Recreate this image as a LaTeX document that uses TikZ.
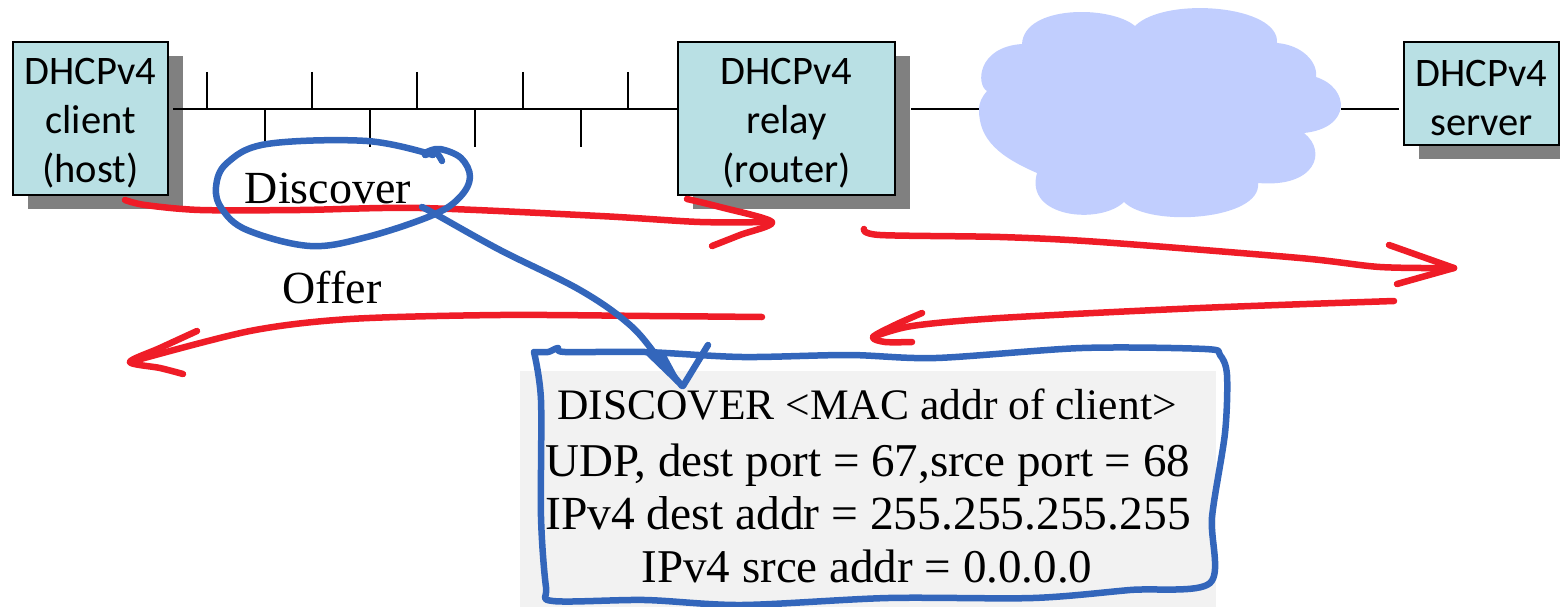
\documentclass[tikz,border=0pt]{standalone}
\usepackage{fontspec}
\setmainfont{Liberation Serif}
\newfontfamily\boxfont{Carlito}
\usetikzlibrary{shadows}
\definecolor{boxcyan}{HTML}{B9E0E4}
\definecolor{cloudblue}{HTML}{C1CEFE}
\definecolor{penred}{HTML}{EF1C27}
\definecolor{penblue}{HTML}{3366BB}
\definecolor{msggray}{HTML}{F2F2F2}
\newcommand{\msgsize}[1]{\fontsize{#1}{53}\selectfont}
\newcommand{\hostgap}{\rule{0pt}{35pt}}
\begin{document}
\begin{tikzpicture}[
  x=1pt,y=-1pt,
  hostbox/.style={draw=black,line width=2.4pt,fill=boxcyan,align=center,inner sep=0pt,
    font=\boxfont\fontsize{40.5}{49}\selectfont,
    copy shadow={shadow xshift=14.5pt,shadow yshift=-14pt,fill=gray,draw=none}},
  wire/.style={black,line width=2pt},
  redpen/.style={penred,line width=6.5pt,line cap=round,line join=round},
  bluepen/.style={penblue,line width=6.5pt,line cap=round,line join=round},
  label/.style={font=\fontsize{46}{50}\selectfont,inner sep=0pt},
  msgline/.style={anchor=base,inner sep=0pt}]

\useasboundingbox (0,0) rectangle (1560,607);

% Hosts and the network between them
\node[hostbox,minimum width=155pt,minimum height=153pt] (client) at (90.5,118.5) {\hostgap DHCPv4 \\ client \\ (host)};
\node[hostbox,minimum width=217pt,minimum height=153pt] (relay) at (786.5,118.5) {\hostgap DHCPv4 \\ relay \\ (router)};
\node[hostbox,minimum width=155pt,minimum height=103pt] (server) at (1481.5,93.5) {\hostgap DHCPv4 \\ server};

\fill[cloudblue] (979,110) .. controls (979,102) and (982,97) .. (987,91)
  .. controls (976,85) and (977,47) .. (1022,44)
  .. controls (1024,5) and (1110,5) .. (1135,26)
  .. controls (1165,-4) and (1280,5) .. (1277,43)
  .. controls (1302,45) and (1318,62) .. (1316,77)
  .. controls (1350,88) and (1352,128) .. (1304,133)
  .. controls (1328,152) and (1315,188) .. (1258,183)
  .. controls (1262,220) and (1150,228) .. (1124,202)
  .. controls (1100,225) and (1024,218) .. (1037,173)
  .. controls (1000,157) and (979,140) .. (979,110) -- cycle;
\node[inner sep=0pt,minimum width=362pt,minimum height=60pt] (cloud) at (1160,109) {};

% The shared link with its stations
\coordinate (bus) at (0,109);
\draw[wire,shorten <=4pt] (client.east |- bus) -- (relay.west |- bus);
\draw[wire,shorten <=15pt] (relay.east |- bus) -- (cloud.west |- bus);
\draw[wire,shorten >=4pt] (cloud.east |- bus) -- (server.west |- bus);
\foreach \xpos in {207,312,417,523,628}
  \draw[wire] (\xpos,72) -- (\xpos,109);
\foreach \xpos in {265,370,475,581}
  \draw[wire] (\xpos,109) -- (\xpos,147);

% Message text
\node[fill=msggray,minimum width=696pt,minimum height=236pt,inner sep=0pt] (msg) at (868,489) {};
\node[msgline,font=\msgsize{43.5}] (msgone) at (867,419) {DISCOVER <MAC addr of client>};
\node[msgline,font=\msgsize{47}] (msgtwo) at (868,476) {UDP, dest port = 67,srce port = 68};
\node[msgline,font=\msgsize{47.5}] (msgthree) at (868,529) {IPv4 dest addr = 255.255.255.255};
\node[msgline,font=\msgsize{47}] (msgfour) at (867,582) {IPv4 srce addr = 0.0.0.0};
\node[label] (discover) at (328,188) {Discover};
\node[label] (offer) at (332,288) {Offer};

% Pen strokes on top
\coordinate (clientout) at (125,200);
\coordinate (relayin) at (772,222);
\coordinate (relayout) at (864,229);
\coordinate (serverin) at (1454,268);
\coordinate (serverback) at (1394,301);
\coordinate (relayback) at (873,337);
\coordinate (relayfwd) at (762,317);
\coordinate (clientin) at (130,362);

\draw[redpen] plot[smooth,tension=.5] coordinates {(clientout) (145,205) (200,210) (300,210) (420,208) (600,216) (700,222) (relayin)};
\draw[redpen] plot[smooth,tension=.5] coordinates {(687,199) (720,207) (relayin) (740,235) (712,246)};
\draw[redpen] plot[smooth,tension=.5] coordinates {(relayout) (880,235) (1000,237) (1100,242) (1300,258) (1380,267) (serverin)};
\draw[redpen] (1389,245) -- (serverin) -- (1397,284);
\draw[redpen] plot[smooth,tension=.5] coordinates {(serverback) (1200,308) (1000,318) (912,326) (relayback)};
\draw[redpen] plot[smooth,tension=.5] coordinates {(922,313) (895,325) (relayback) (885,342) (912,342)};
\draw[redpen] plot[smooth,tension=.5] coordinates {(relayfwd) (650,316) (500,315) (350,319) (250,331) (clientin)};
\draw[redpen] plot[smooth,tension=.5] coordinates {(197,331) (160,348) (clientin) (160,368) (183,374)};

\draw[bluepen] plot[smooth,tension=.6] coordinates {(425,155) (436,153) (442,161)};
\draw[bluepen] plot[smooth,tension=.6] coordinates {(433,155) (367,141) (267,144) (227,163) (216,187) (222,209) (247,230) (310,246) (367,237) (433,215) (460,197) (470,177) (461,158) (440,149) (427,152)};
\draw[bluepen] plot[smooth,tension=.6] coordinates {(422,207) (437,215) (500,250) (580,290) (630,325) (660,360) (682,386)};
\fill[penblue] (645,354) -- (664,351) -- (684,388) -- (676,384) -- cycle;
\draw[bluepen] (683,386) -- (708,345);

\draw[bluepen] plot[smooth,tension=.5] coordinates {(534,352) (548,352) (558,348) (565,352) (645,352) (742,357) (849,355) (936,358) (1082,348) (1205,349) (1220,355) (1227,375) (1225,433) (1212,517) (1210,583) (1130,590) (1033,598) (888,598) (742,605) (645,600) (553,601) (546,587) (541,517) (541,400) (534,352)};

\end{tikzpicture}
\end{document}
